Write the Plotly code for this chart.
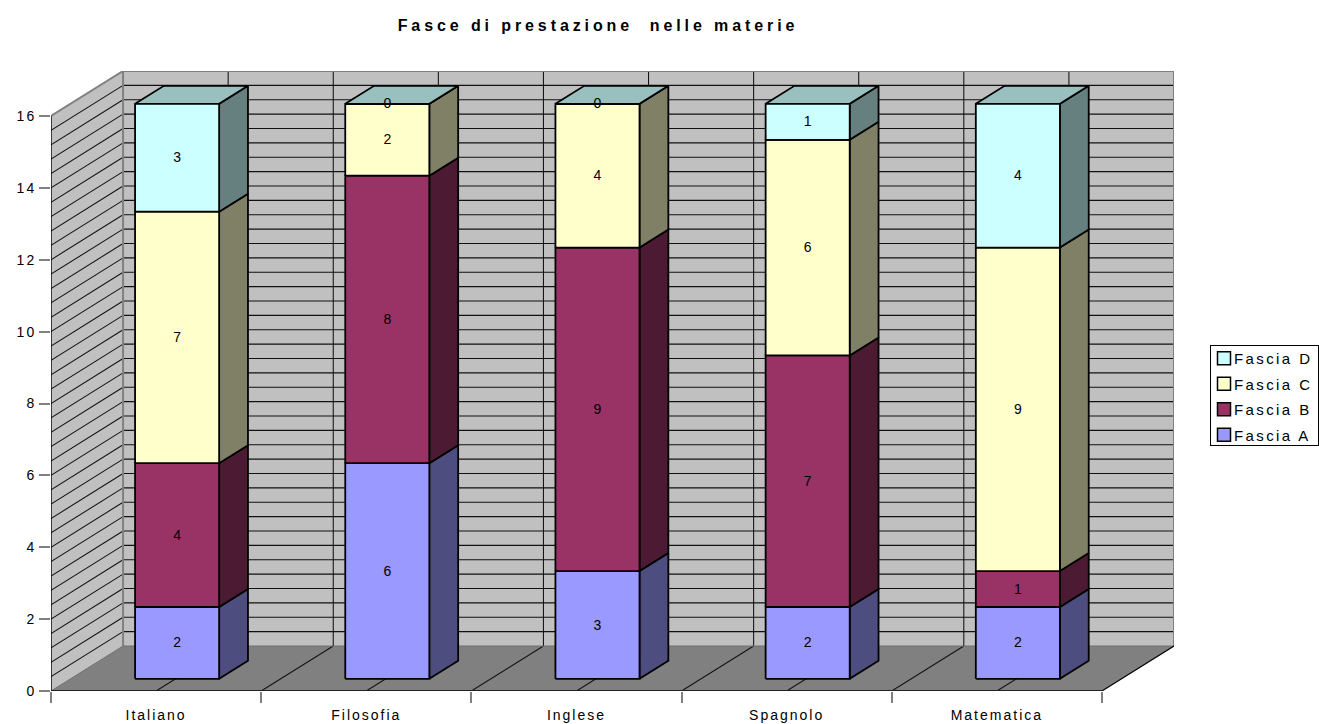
import plotly.graph_objects as go

categories = ["Italiano", "Filosofia", "Inglese", "Spagnolo", "Matematica"]
series_names = ["Fascia A", "Fascia B", "Fascia C", "Fascia D"]
fascia_a = [2, 6, 3, 2, 2]
fascia_b = [4, 8, 9, 7, 1]
fascia_c = [7, 2, 4, 6, 9]
fascia_d = [3, 0, 0, 1, 4]
y_ticks = [0, 2, 4, 6, 8, 10, 12, 14, 16]
series_values = [fascia_a, fascia_b, fascia_c, fascia_d]

front_colors = ["#9999FF", "#993366", "#FFFFCC", "#CCFFFF"]
side_colors = ["#4D4D80", "#4D1A33", "#808066", "#668080"]
top_color = "#99BFBF"
FONT = "Liberation Sans, Arial, sans-serif"

# oblique projection: depth 1 shifts by DX categories and DY value units
DX = 72 / 210
DY = 45 / 35.94
YMAX = 16
GRID_STEP = 0.4
BAR_LEFT = 0.3074
BAR_W = 0.4
D0 = 0.27
D1 = 0.67
LABEL_NUDGE = 0.03
n = len(categories)


def P(x, y, d=0.0):
    return x + d * DX, y + d * DY


def poly(points):
    xs, ys = zip(*points)
    return list(xs) + [xs[0], None], list(ys) + [ys[0], None]


def add_area(fig, polys, fill, line=None, width=0):
    xs, ys = [], []
    for p in polys:
        a, b = poly(p)
        xs += a
        ys += b
    fig.add_trace(go.Scatter(
        x=xs, y=ys, mode="lines", fill="toself", fillcolor=fill,
        line=dict(color=line or fill, width=width if line else 0),
        hoverinfo="skip", showlegend=False, cliponaxis=False))


def add_lines(fig, segs, color, width):
    xs, ys = [], []
    for (a, b) in segs:
        xs += [a[0], b[0], None]
        ys += [a[1], b[1], None]
    fig.add_trace(go.Scatter(
        x=xs, y=ys, mode="lines", line=dict(color=color, width=width),
        hoverinfo="skip", showlegend=False, cliponaxis=False))


fig = go.Figure()

# walls and floor
add_area(fig, [[P(0, 0, 1), P(n, 0, 1), P(n, YMAX, 1), P(0, YMAX, 1)]], "#C0C0C0")
add_area(fig, [[P(0, 0), P(0, 0, 1), P(0, YMAX, 1), P(0, YMAX)]], "#C0C0C0")
add_area(fig, [[P(0, 0), P(n, 0), P(n, 0, 1), P(0, 0, 1)]], "#808080")

# grid lines
levels = [i * GRID_STEP for i in range(1, int(YMAX / GRID_STEP))]
segs = []
for v in levels:
    segs.append((P(0, v), P(0, v, 1)))
    segs.append((P(0, v, 1), P(n, v, 1)))
for k in range(1, 2 * n):
    segs.append((P(k / 2, 0), P(k / 2, 0, 1)))
    segs.append((P(k / 2, 0, 1), P(k / 2, YMAX, 1)))
add_lines(fig, segs, "#111111", 1.05)

# wall outline
add_lines(fig, [(P(0, 0, 1), P(0, YMAX, 1)), (P(0, YMAX, 1), P(n, YMAX, 1)),
                (P(n, YMAX, 1), P(n, 0, 1)), (P(0, YMAX), P(0, YMAX, 1))], "#808080", 2)
add_lines(fig, [(P(0, 0, 1), P(n, 0, 1)), (P(0, 0), P(0, 0, 1))], "#707070", 1)
add_lines(fig, [(P(n, 0), P(n, 0, 1))], "#000000", 1.2)
add_lines(fig, [(P(0, 0), P(0, YMAX))], "#000000", 1.4)
add_lines(fig, [(P(0, 0), P(n, 0))], "#222222", 1.8)

# bars
label_x, label_y, label_t = [], [], []
for s, values in enumerate(series_values):
    fronts, sides, tops = [], [], []
    for i, v in enumerate(values):
        base = sum(series_values[j][i] for j in range(s))
        x0 = i + BAR_LEFT
        x1 = x0 + BAR_W
        y0, y1 = base, base + v
        fronts.append([P(x0, y0, D0), P(x1, y0, D0), P(x1, y1, D0), P(x0, y1, D0)])
        sides.append([P(x1, y0, D0), P(x1, y0, D1), P(x1, y1, D1), P(x1, y1, D0)])
        if s == len(series_values) - 1:
            tops.append([P(x0, y1, D0), P(x1, y1, D0), P(x1, y1, D1), P(x0, y1, D1)])
        cx, cy = P((x0 + x1) / 2, (y0 + y1) / 2, D0)
        label_x.append(cx)
        label_y.append(cy - LABEL_NUDGE)
        label_t.append(str(v))
    add_area(fig, sides, side_colors[s], "#000000", 1.8)
    if tops:
        add_area(fig, tops, top_color, "#000000", 1.8)
    add_area(fig, fronts, front_colors[s], "#000000", 1.8)

fig.add_trace(go.Scatter(
    x=label_x, y=label_y, text=label_t, mode="text",
    textfont=dict(family=FONT, size=14, color="#000000"),
    textposition="middle center", hoverinfo="skip", showlegend=False, cliponaxis=False))

# legend entries
for s in reversed(range(len(series_names))):
    fig.add_trace(go.Scatter(
        x=[None], y=[None], mode="markers", name=series_names[s], legendgroup=series_names[s],
        marker=dict(symbol="square", size=13, color=front_colors[s],
                    line=dict(color="#000000", width=1.5))))

fig.update_layout(
    width=1319, height=724, autosize=False,
    margin=dict(l=51, r=145, t=71, b=33, autoexpand=False),
    paper_bgcolor="#FFFFFF", plot_bgcolor="#FFFFFF",
    font=dict(family=FONT, size=14, color="#000000"),
    title=dict(text="<b>Fasce di prestazione  nelle materie</b>",
               x=598 / 1319, xanchor="center", y=1 - 25 / 724, yanchor="middle",
               font=dict(family=FONT, size=16, color="#000000")),
    xaxis=dict(range=[0, n + DX], showgrid=False, zeroline=False, showline=False, automargin=False,
               tickmode="array", tickvals=[i + 0.5 for i in range(n)], ticktext=categories,
               ticks="outside", ticklen=11, tickcolor="rgba(0,0,0,0)",
               minor=dict(tickmode="array", tickvals=list(range(n + 1)), ticks="outside",
                          ticklen=11, tickcolor="#808080", tickwidth=1.5),
               tickfont=dict(family=FONT, size=14)),
    yaxis=dict(range=[0, YMAX + DY], showgrid=False, zeroline=False, showline=False, automargin=False,
               tickmode="array", tickvals=y_ticks, ticks="outside", ticklen=11,
               tickcolor="#808080", tickwidth=1.5, tickfont=dict(family=FONT, size=14)),
    legend=dict(x=(1210 - 51) / 1123, xanchor="left", y=1 - (345 - 71) / 620, yanchor="top",
                bgcolor="#FFFFFF", bordercolor="#000000", borderwidth=1,
                font=dict(family=FONT, size=15), traceorder="grouped", tracegroupgap=3,
                entrywidthmode="pixels", entrywidth=72, itemclick=False, itemdoubleclick=False),
)

post = """
document.body.style.margin='0';
document.querySelectorAll('.xtick text, .ytick text').forEach(function(t){t.style.letterSpacing='2px';});
document.querySelectorAll('.gtitle').forEach(function(t){t.style.letterSpacing='3.9px';});
document.querySelectorAll('.legendtext').forEach(function(t){
  t.style.letterSpacing='2.4px';
  t.setAttribute('x', parseFloat(t.getAttribute('x')) - 17);
});
document.querySelectorAll('.legend .legendsymbols').forEach(function(t){
  t.setAttribute('transform', 'translate(-7,0) ' + (t.getAttribute('transform') || ''));
});
document.querySelectorAll('.legend .bg').forEach(function(t){
  t.setAttribute('height', '100');
  t.setAttribute('width', '108');
});
document.querySelectorAll('.legend .scrollbox').forEach(function(t){
  t.setAttribute('transform', 'translate(0,-4)');
});
"""
fig.write_html("out.html", post_script=post, config={"displayModeBar": False})
